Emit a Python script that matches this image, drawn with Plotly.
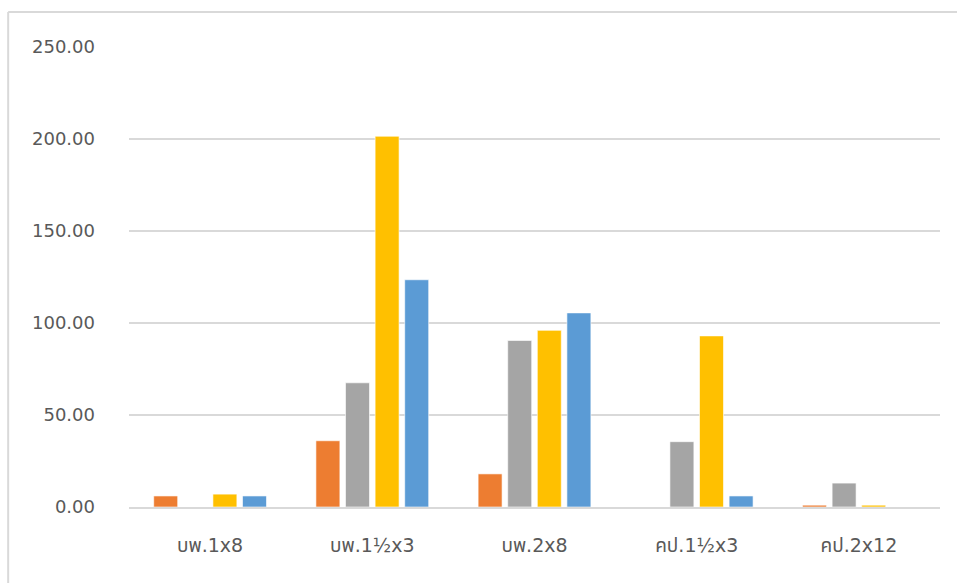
import plotly.graph_objects as go

categories = ["บพ.1x8", "บพ.1½x3", "บพ.2x8", "คป.1½x3", "คป.2x12"]
series_orange = [6.0, 36.0, 18.0, 0.0, 1.0]
series_gray = [0.0, 67.5, 90.5, 35.5, 13.0]
series_yellow = [7.0, 201.5, 96.0, 93.0, 1.0]
series_blue = [6.0, 123.5, 105.5, 6.0, 0.0]
y_ticks = [0, 50, 100, 150, 200, 250]
y_tick_labels = ["0.00", "50.00", "100.00", "150.00", "200.00", "250.00"]

colors = ["#ED7D31", "#A5A5A5", "#FFC000", "#5B9BD5"]
all_series = [series_orange, series_gray, series_yellow, series_blue]

fig = go.Figure()
for vals, col in zip(all_series, colors):
    fig.add_trace(go.Bar(
        x=categories, y=vals,
        marker=dict(color=col, line=dict(color="rgba(255,255,255,0.6)", width=1)),
        showlegend=False,
        hoverinfo="x+y",
    ))

font_family = "'DejaVu Sans', 'Noto Sans Thai', 'Noto Sans', sans-serif"

fig.update_layout(
    width=957, height=583,
    margin=dict(l=129, r=17, t=47, b=76),
    paper_bgcolor="white",
    plot_bgcolor="white",
    barmode="group",
    bargap=0.27,
    bargroupgap=0.19,
    font=dict(family=font_family, size=18, color="#595959"),
    xaxis=dict(
        showgrid=False,
        showline=True, linecolor="#D9D9D9", linewidth=2,
        ticks="", tickfont=dict(size=19, color="#595959"),
        ticklabelstandoff=20,
    ),
    yaxis=dict(
        range=[0, 250],
        tickvals=y_ticks, ticktext=y_tick_labels,
        showgrid=True, gridcolor="#D9D9D9", gridwidth=2,
        zeroline=False, showline=False,
        ticks="", tickfont=dict(size=18, color="#595959"),
        ticklabelstandoff=33,
    ),
    shapes=[
        # chart frame: top and left edges
        dict(type="line", xref="paper", yref="paper",
             x0=-0.149, x1=1.03, y0=1.076, y1=1.076,
             line=dict(color="#D9D9D9", width=2)),
        dict(type="line", xref="paper", yref="paper",
             x0=-0.149, x1=-0.149, y0=1.076, y1=-0.2,
             line=dict(color="#D9D9D9", width=2)),
    ],
)

fig.write_html("out.html")
